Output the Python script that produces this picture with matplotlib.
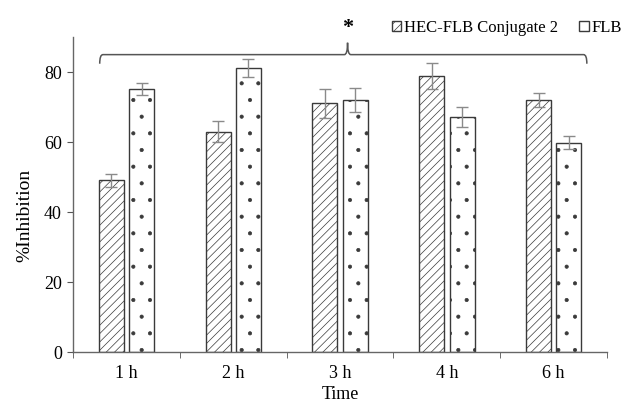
import matplotlib
matplotlib.use('Agg')
import matplotlib.pyplot as plt
import numpy as np
from matplotlib.path import Path
from matplotlib.patches import PathPatch

# data
times = ['1 h', '2 h', '3 h', '4 h', '6 h']
hec = [49.1, 63.0, 71.1, 78.9, 72.0]
hec_err = [1.8, 3.0, 4.2, 3.6, 2.0]
flb = [75.2, 81.2, 72.0, 67.2, 59.8]
flb_err = [1.6, 2.6, 3.5, 2.9, 1.9]

plt.rcParams['font.family'] = ['Liberation Serif', 'DejaVu Serif']
plt.rcParams['hatch.linewidth'] = 0.5
plt.rcParams['hatch.color'] = '#333333'

EDGE = '#3a3a3a'
ERR = '#8a8a8a'


def brace(ax, x0, x1, xm, y, h_end, h_mid, dx):
    verts = [(x0, y - h_end), (x0, y), (x0 + dx, y),
             (xm - dx, y), (xm, y), (xm, y + h_mid),
             (xm, y), (xm + dx, y),
             (x1 - dx, y), (x1, y), (x1, y - h_end)]
    codes = [Path.MOVETO, Path.CURVE3, Path.CURVE3,
             Path.LINETO, Path.CURVE3, Path.CURVE3,
             Path.CURVE3, Path.CURVE3,
             Path.LINETO, Path.CURVE3, Path.CURVE3]
    ax.add_patch(PathPatch(Path(verts, codes), fill=False, edgecolor='#555555',
                           lw=1.1, clip_on=False))


fig = plt.figure(figsize=(6.24, 4.08), dpi=100)
ax = fig.add_axes([0.117, 0.137, 0.856, 0.772])

x = np.arange(len(times))
w = 0.235
off = 0.142

b1 = ax.bar(x - off, hec, w, color='white', edgecolor=EDGE, hatch='////', lw=1.0,
            label='HEC-FLB Conjugate 2')
b2 = ax.bar(x + off, flb, w, color='white', edgecolor=EDGE, hatch='.', lw=1.0,
            label='FLB')
ax.errorbar(x - off, hec, yerr=hec_err, fmt='none', ecolor=ERR, elinewidth=1.0,
            capsize=4, capthick=1.0)
ax.errorbar(x + off, flb, yerr=flb_err, fmt='none', ecolor=ERR, elinewidth=1.0,
            capsize=4, capthick=1.0)

ax.set_xlim(-0.5, 4.5)
ax.set_ylim(0, 90)
ax.set_yticks([0, 20, 40, 60, 80])
ax.set_xticks(x)
ax.set_xticklabels(times)
ax.set_xticks(np.arange(-0.5, 4.6, 1.0), minor=True)
ax.tick_params(axis='x', which='major', length=0, pad=9, labelsize=13)
ax.tick_params(axis='x', which='minor', length=4, direction='out', color='#555555')
ax.tick_params(axis='y', length=4, direction='out', color='#555555', labelsize=13, pad=4)

for s in ['top', 'right']:
    ax.spines[s].set_visible(False)
for s in ['left', 'bottom']:
    ax.spines[s].set_color('#666666')
    ax.spines[s].set_linewidth(1.0)

ax.set_xlabel('Time', fontsize=13, labelpad=3)
ax.set_ylabel('%Inhibition', fontsize=14)
ax.yaxis.set_label_coords(-0.075, 0.435)

brace(ax, -0.25, 4.31, 2.07, 85.0, 2.6, 3.4, 0.03)
ax.text(2.07, 92.6, '*', ha='center', va='center', fontsize=16, fontweight='bold',
        clip_on=False)

fig.legend(handles=[b1, b2], loc='upper right', bbox_to_anchor=(1.012, 0.975), ncol=2,
           frameon=False, fontsize=12, handlelength=0.55, handleheight=0.55,
           handletextpad=0.15, columnspacing=1.3, borderaxespad=0.2)

fig.savefig('out.png', dpi=100)
